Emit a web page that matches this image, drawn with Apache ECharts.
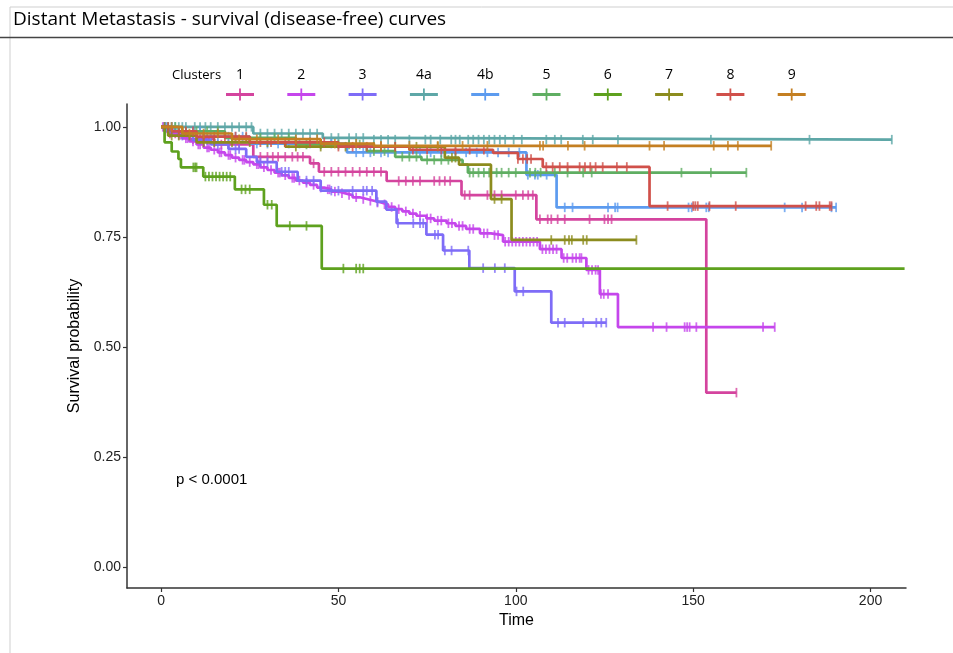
<!DOCTYPE html>
<html><head><meta charset="utf-8">
<script src="https://cdn.jsdelivr.net/npm/echarts@6/dist/echarts.min.js"></script>
<style>html,body{margin:0;padding:0;background:#fff}#c{width:953px;height:653px}</style>
</head><body><div id="c"></div>
<script>
// ---------- data ----------
const clusters = ['1','2','3','4a','4b','5','6','7','8','9'];
const colors = ['#D4449E','#C546EC','#7E6CF7','#5EA7A7','#5C9BEF','#5FAE62','#5EA11E','#8C8C1E','#D0504A','#C47F22'];

// step times / survival (last entry = end of follow-up) and censor times
const t1 = [0,2,8,15,26,42,44.5,63.6,84.7,105.8,153.7,162.2];
const s1 = [1,0.985,0.972,0.96,0.932,0.917,0.898,0.877,0.845,0.79,0.396,0.396];
const c1 = [1,2.5,4,5,6,9,12,14,17,19,22,28,30,31.5,33,35,37,38.5,40,43,46,48,50,52,54,56,58,60,62,67,69,71,73,77,78.5,80,81.5,85.6,87,92,94,96,100,102,103.5,104.8,106.8,109,110,111.8,113.8,120.8,125,126,127,162.2];

const t2 = [0,1.5,4,6,8,10,12,14,16,18,20,22,24,26,28,30,32,34,36,38,40,42,44,46,48,50,52,54,56,58,60,62,64,66,68,70,72,74.8,77,80.5,83,86,89.9,93,96.4,106.8,112.9,119.9,123.7,128.8,173];
const s2 = [1,0.99,0.982,0.974,0.967,0.96,0.953,0.948,0.942,0.936,0.93,0.925,0.92,0.915,0.908,0.902,0.896,0.89,0.884,0.878,0.873,0.868,0.862,0.858,0.853,0.849,0.845,0.84,0.836,0.832,0.828,0.824,0.818,0.813,0.808,0.803,0.798,0.792,0.787,0.781,0.775,0.768,0.758,0.754,0.739,0.722,0.702,0.675,0.62,0.545,0.545];
const c2 = [0.5,1,2,3,3.5,5,5.5,7,7.5,9,10.5,11,13,13.5,15,16.5,17,19,19.5,21,23,23.5,25,27,27.5,29,31,33,33.5,35,37,37.5,39,41,43,45,47,47.5,49,51,53,55,57,59,61,63,65,67,69,71,73,75,76,78,79,81,82,84,85,87,88,91,92,94,95,97,98,99,100,101,102,103,104,105,106,107.5,108.5,109.5,110.5,111.5,113.5,114.5,116,117,118,118.5,120.5,121.5,122.5,123.2,124,124.8,126,138.7,142.5,147.6,148.3,149,150.9,169.7,173];

const t3 = [0,2,5,9,14,19,24,27,32.6,38.5,45,60.7,63.5,66.4,74.8,79.5,86.9,99.7,110,125.5];
const s3 = [1,0.99,0.98,0.97,0.96,0.95,0.932,0.92,0.898,0.878,0.855,0.83,0.812,0.781,0.755,0.719,0.679,0.626,0.555,0.555];
const c3 = [1,3,6,8,11,13,16,21,22,28,30,34,35,36,41,43,48,50,54,57,58,59.5,61,66.8,71.1,73,73.9,77.2,78.1,80,81.9,86.6,90.8,94.1,96.9,100.2,102.1,111.9,113.8,119,122.7,124.1,125.5];

const t4a = [0,26,45.6,60,206];
const s4a = [1,0.985,0.975,0.971,0.971];
const c4a = [1,2,3,4,5,6,7,9.5,11,12.5,14,16,18,20,22,24,25.5,28,30,32,34,36,38,40,42,44,48,50,53,55,57,60,62,64,66,70,74.5,76,78.7,81.8,83,84.2,86.6,88,89.5,91,92.5,94,95.5,97,99.4,101.7,108.6,111,112.8,118.9,121.7,128.8,155,182.8,206];

const t4b = [0,4,12,25,52.4,103,111.5,190.3];
const s4b = [1,0.99,0.978,0.962,0.942,0.891,0.817,0.817];
const c4b = [1.5,3,5,7,9,11,14,16,19,21,23,27,30,33,36,39,42,45,48,55,57,59,62,64,66,70,73,76,79,83,86,89,92,95,98,101,103.4,105.4,106.2,108.7,113.8,116,126,128,128.7,148.7,149.6,153.7,154.4,175.8,180.7,189,190.3];

const t5 = [0,5,18,38,58,66,73.4,85,86.5,165];
const s5 = [1,0.99,0.975,0.96,0.945,0.932,0.925,0.914,0.896,0.896];
const c5 = [2,4,7,10,13,16,20,24,28,32,36,41,45,50,53,56,60,63,68,70,72,75,77,79,81,87,88,89.5,91,92.5,94.6,96,98,100,104,105.5,107,111,114.6,119,121.4,146.7,155,165];

const t6 = [0,1,3,4.9,5.6,11.9,20.8,29,32.6,45.3,209.6];
const s6 = [1,0.965,0.944,0.927,0.908,0.887,0.858,0.823,0.775,0.678,0.678];
const c6 = [9.1,9.6,10,12.5,13.5,14.5,15.5,16.5,17.5,18.5,19.5,22.7,23.8,25,30,31.2,36.3,41,51.4,55,56,57];

const t7 = [0,2,10,35,80,84,93,98.8,134];
const s7 = [1,0.98,0.965,0.955,0.93,0.914,0.836,0.743,0.743];
const c7 = [1,3,5,8,12,15,20,25,30,38,45,52,60,66,72,78,82,83,94,96,110,113.8,115,115.8,119,120,134];

const t8 = [0,3,10,25,50,70,93.6,100.6,107.6,137.7,189];
const s8 = [1,0.99,0.978,0.965,0.955,0.948,0.941,0.927,0.909,0.82,0.82];
const c8 = [2,5,7,9,12,15,18,21,24,28,31,35,38,42,46,50,54,58,62,66,71,75,79,83,87,91,100.6,102,103.2,104.3,108.6,110.4,112.4,114.6,118,119.5,121,122.5,124.5,128.5,131.3,142.8,150,150.6,151.3,154.6,162,181.7,184.7,185.6,188.5,189];

const t9 = [0,6,20,45,60,172];
const s9 = [1,0.985,0.972,0.962,0.957,0.957];
const c9 = [3,8,12,16,22,27,33,38,44,49,55,62,70,78,85,92,106.8,107.7,114.7,119.4,137.7,141.8,155.8,159.8,162.6,172];

const xTicks = [0,50,100,150,200];
const yTicks = [0,0.25,0.5,0.75,1];
const pText = 'p < 0.0001';

const stepT = [t1,t2,t3,t4a,t4b,t5,t6,t7,t8,t9];
const stepS = [s1,s2,s3,s4a,s4b,s5,s6,s7,s8,s9];
const cens = [c1,c2,c3,c4a,c4b,c5,c6,c7,c8,c9];

// ---------- chart ----------
function survAt(ts, ss, t){ let v = ss[0]; for (let i=0;i<ts.length;i++){ if (ts[i] <= t) v = ss[i]; } return v; }

const FONT = 'Liberation Sans';
const series = [];
clusters.forEach((name,i)=>{
  series.push({
    name, type:'line', step:'end', showSymbol:false, silent:true, animation:false,
    data: stepT[i].map((t,k)=>[t, stepS[i][k]]),
    lineStyle:{color:colors[i], width:2.7}, itemStyle:{color:colors[i]}, z:2+i
  });
  series.push({
    name, type:'scatter', silent:true, animation:false,
    symbol:'rect', symbolSize:[1.8,9.5],
    data: cens[i].map(t=>[t, survAt(stepT[i], stepS[i], t)]),
    itemStyle:{color:colors[i]}, z:2+i
  });
});

const graphic = [
  {type:'line', shape:{x1:10,y1:7,x2:953,y2:7}, style:{stroke:'#cfcfcf', lineWidth:1}},
  {type:'line', shape:{x1:10,y1:7,x2:10,y2:653}, style:{stroke:'#cfcfcf', lineWidth:1}},
  {type:'line', shape:{x1:0,y1:37.5,x2:953,y2:37.5}, style:{stroke:'#444', lineWidth:1.5}},
  {type:'text', left:13, top:10, style:{text:'Distant Metastasis - survival (disease-free) curves', font:'19px "Open Sans"', fill:'#000'}},
  {type:'text', x:172, y:75, style:{text:'Clusters', font:'13px "Open Sans"', fill:'#000', textVerticalAlign:'middle'}},
  {type:'text', x:176, y:480, style:{text:pText, font:'15px "Liberation Sans"', fill:'#000', textVerticalAlign:'middle'}}
];
clusters.forEach((name,i)=>{
  const cx = 240 + i*61.3;
  graphic.push({type:'text', x:cx, y:75, style:{text:name, font:'14px "Open Sans"', fill:'#000', textAlign:'center', textVerticalAlign:'middle'}});
  graphic.push({type:'line', shape:{x1:cx-14,y1:94.5,x2:cx+14,y2:94.5}, style:{stroke:colors[i], lineWidth:3}});
  graphic.push({type:'line', shape:{x1:cx,y1:88.5,x2:cx,y2:100.5}, style:{stroke:colors[i], lineWidth:1.8}});
});

const axisCommon = {
  axisLine:{show:true, onZero:false, lineStyle:{color:'#333', width:1.5}},
  splitLine:{show:false}
};

const chart = echarts.init(document.getElementById('c'), null, {renderer:'canvas'});
chart.setOption({
  animation:false,
  backgroundColor:'#fff',
  grid:{left:127, right:47, top:104, bottom:65},
  xAxis:Object.assign({
    type:'value', min:-9.6, max:210,
    name:'Time', nameLocation:'middle', nameGap:21,
    nameTextStyle:{fontFamily:FONT, fontSize:16, color:'#000'},
    axisTick:{show:true, length:4, customValues:xTicks, lineStyle:{color:'#333', width:1.2}},
    axisLabel:{customValues:xTicks, fontFamily:FONT, fontSize:14, color:'#222', margin:6}
  }, axisCommon),
  yAxis:Object.assign({
    type:'value', min:-0.048, max:1.052,
    name:'Survival probability', nameLocation:'middle', nameGap:40,
    nameTextStyle:{fontFamily:FONT, fontSize:16, color:'#000'},
    axisTick:{show:true, length:4, customValues:yTicks, lineStyle:{color:'#333', width:1.2}},
    axisLabel:{customValues:yTicks, fontFamily:FONT, fontSize:14, color:'#222', margin:6, formatter:v=>v.toFixed(2)}
  }, axisCommon),
  series,
  graphic
});
</script></body></html>
